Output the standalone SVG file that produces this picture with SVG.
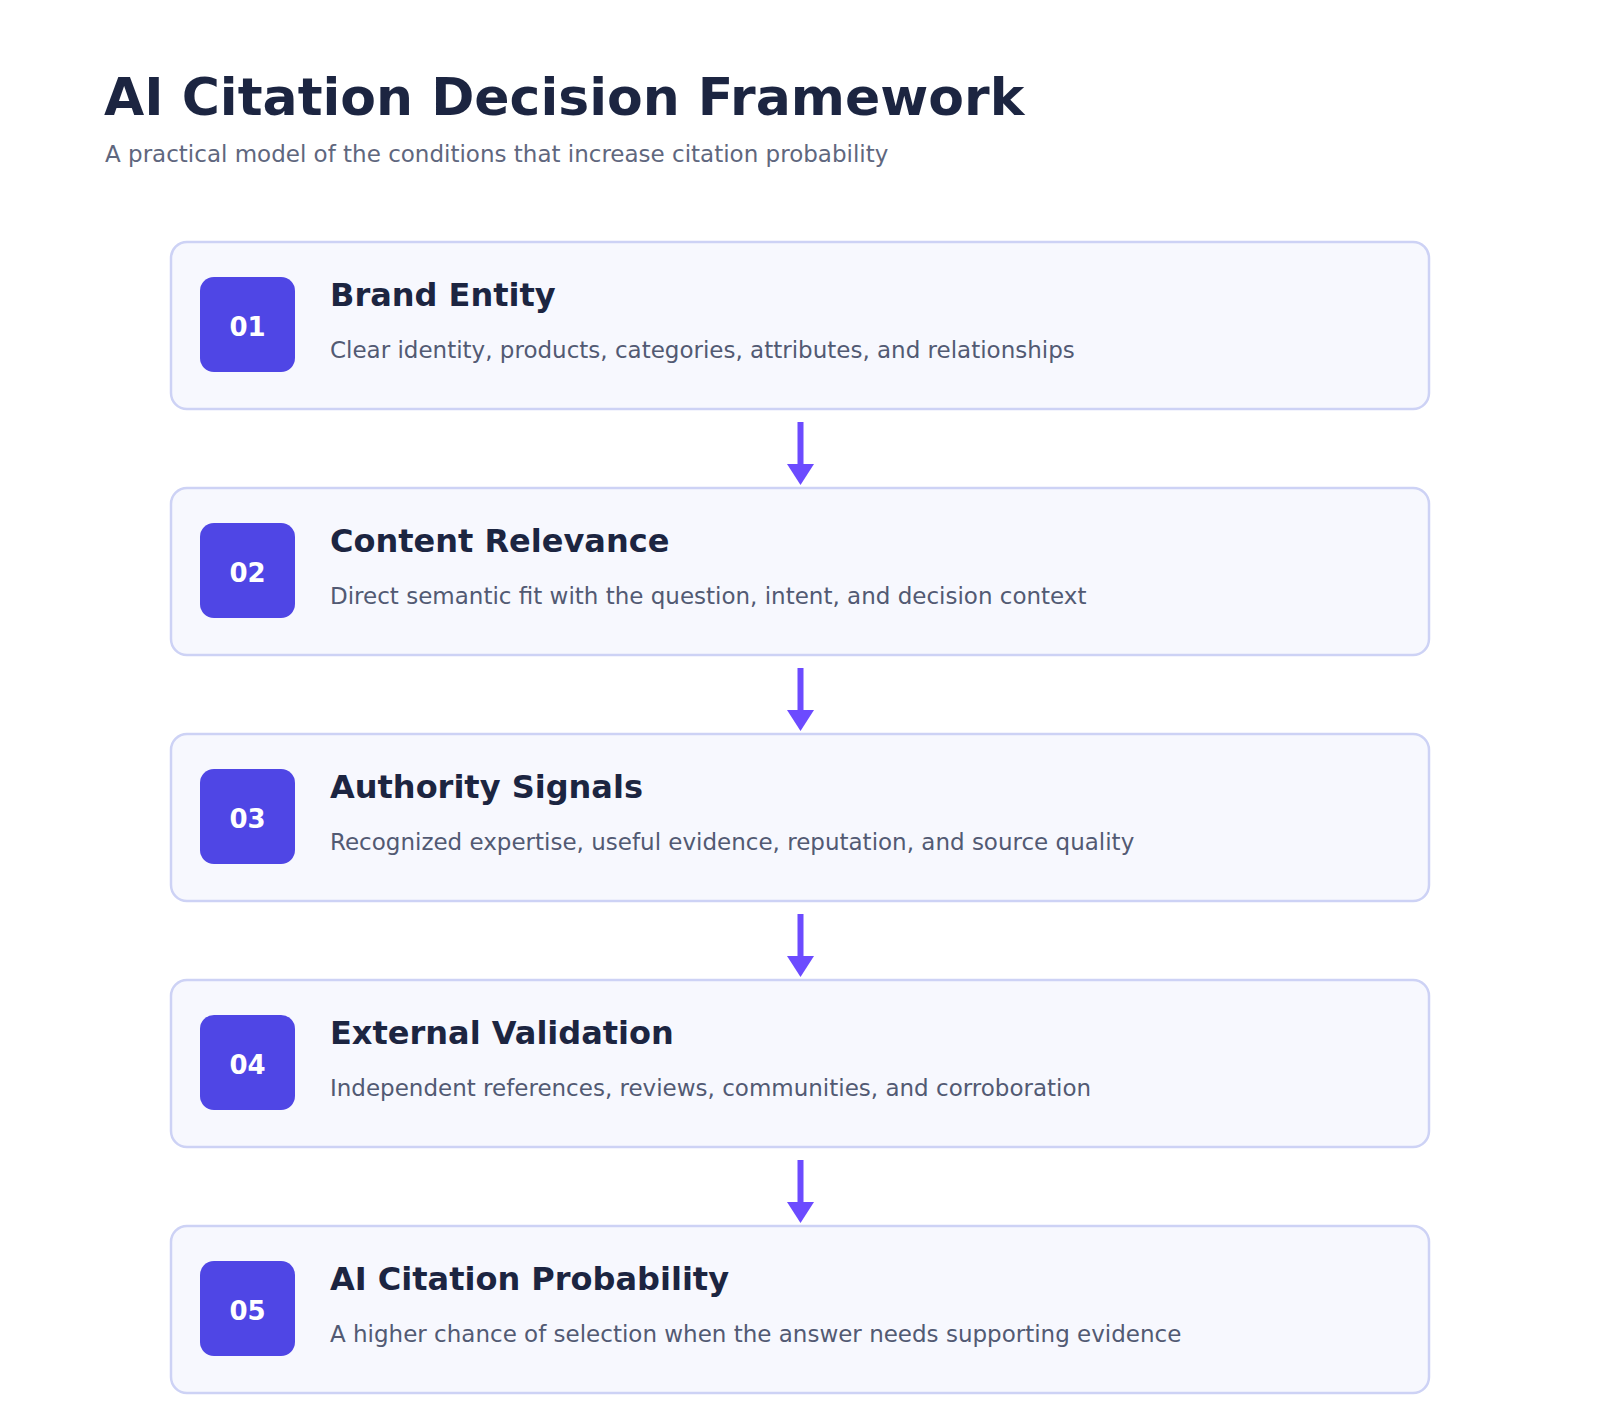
<svg xmlns="http://www.w3.org/2000/svg" width="1600" height="1410" viewBox="0 0 1600 1410">
<style>
.bg{fill:#ffffff}
.title{font-family:"DejaVu Sans",sans-serif;font-weight:bold;font-size:52px;fill:#1c2541}
.sub{font-family:"DejaVu Sans",sans-serif;font-size:23px;fill:#5f677e}
.card{fill:#f7f8fe;stroke:#cdd2f5;stroke-width:2.5}
.badge{fill:#4f46e5}
.num{font-family:"DejaVu Sans",sans-serif;font-weight:bold;font-size:26px;fill:#ffffff;text-anchor:middle}
.head{font-family:"DejaVu Sans",sans-serif;font-weight:bold;font-size:32px;fill:#1c2541}
.desc{font-family:"DejaVu Sans",sans-serif;font-size:23px;fill:#525a73}
.arrow{fill:#6c4bff}
</style>
<rect class="bg" x="0" y="0" width="1600" height="1410"/>
<text class="title" x="104" y="115">AI Citation Decision Framework</text>
<text class="sub" x="105" y="162">A practical model of the conditions that increase citation probability</text>

<g id="connectors">
<g><rect class="arrow" x="797.5" y="422" width="6" height="43"/><polygon class="arrow" points="787,464 814,464 800.5,485"/></g>
<g><rect class="arrow" x="797.5" y="668" width="6" height="43"/><polygon class="arrow" points="787,710 814,710 800.5,731"/></g>
<g><rect class="arrow" x="797.5" y="914" width="6" height="43"/><polygon class="arrow" points="787,956 814,956 800.5,977"/></g>
<g><rect class="arrow" x="797.5" y="1160" width="6" height="43"/><polygon class="arrow" points="787,1202 814,1202 800.5,1223"/></g>
</g>

<g id="node1">
<rect class="card" x="171" y="242" width="1258" height="167" rx="16"/>
<rect class="badge" x="200" y="277" width="95" height="95" rx="14"/>
<text class="num" x="247.5" y="336">01</text>
<text class="head" x="330" y="306">Brand Entity</text>
<text class="desc" x="330" y="358">Clear identity, products, categories, attributes, and relationships</text>
</g>
<g id="node2">
<rect class="card" x="171" y="488" width="1258" height="167" rx="16"/>
<rect class="badge" x="200" y="523" width="95" height="95" rx="14"/>
<text class="num" x="247.5" y="582">02</text>
<text class="head" x="330" y="552">Content Relevance</text>
<text class="desc" x="330" y="604">Direct semantic fit with the question, intent, and decision context</text>
</g>
<g id="node3">
<rect class="card" x="171" y="734" width="1258" height="167" rx="16"/>
<rect class="badge" x="200" y="769" width="95" height="95" rx="14"/>
<text class="num" x="247.5" y="828">03</text>
<text class="head" x="330" y="798">Authority Signals</text>
<text class="desc" x="330" y="850">Recognized expertise, useful evidence, reputation, and source quality</text>
</g>
<g id="node4">
<rect class="card" x="171" y="980" width="1258" height="167" rx="16"/>
<rect class="badge" x="200" y="1015" width="95" height="95" rx="14"/>
<text class="num" x="247.5" y="1074">04</text>
<text class="head" x="330" y="1044">External Validation</text>
<text class="desc" x="330" y="1096">Independent references, reviews, communities, and corroboration</text>
</g>
<g id="node5">
<rect class="card" x="171" y="1226" width="1258" height="167" rx="16"/>
<rect class="badge" x="200" y="1261" width="95" height="95" rx="14"/>
<text class="num" x="247.5" y="1320">05</text>
<text class="head" x="330" y="1290">AI Citation Probability</text>
<text class="desc" x="330" y="1342">A higher chance of selection when the answer needs supporting evidence</text>
</g>
</svg>
